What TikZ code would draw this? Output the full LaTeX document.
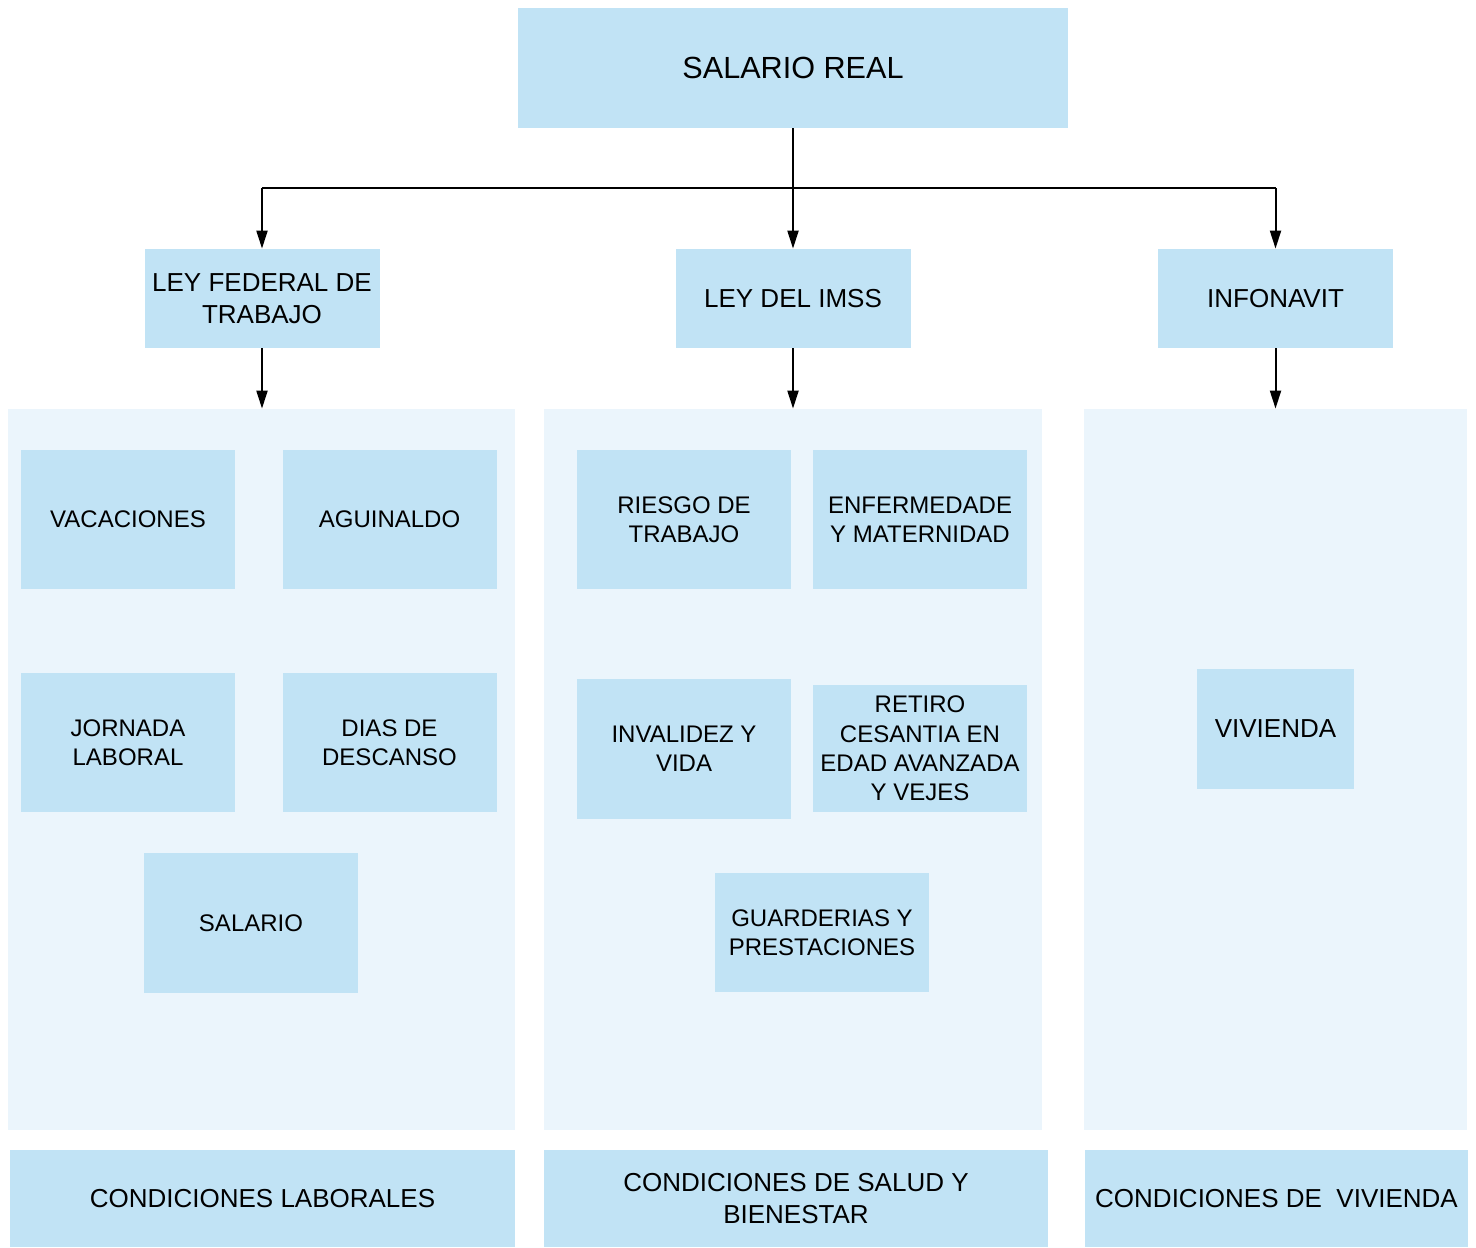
\documentclass[tikz,border=0pt]{standalone}
\usepackage{fontspec}
\setmainfont{Liberation Sans}
\usetikzlibrary{arrows.meta}
\definecolor{boxblue}{HTML}{C1E3F5}
\definecolor{panelblue}{HTML}{EBF5FC}
\begin{document}
\begin{tikzpicture}[x=0.5pt,y=-0.5pt,
  box/.style={fill=boxblue,draw=none,align=center,inner sep=0pt,font=\fontsize{12}{14.7}\selectfont},
  head/.style={box,font=\fontsize{13}{16}\selectfont},
  panel/.style={fill=panelblue,draw=none,inner sep=0pt},
  arr/.style={line width=1pt,-{Triangle[length=9pt,width=5.5pt]}}]
\useasboundingbox (0,0) rectangle (1476,1247);
\fill[white] (0,0) rectangle (1476,1247);
% panels
\node[panel,minimum width=507*0.5pt,minimum height=721*0.5pt] (p1) at (261.5,769.5) {};
\node[panel,minimum width=498*0.5pt,minimum height=721*0.5pt] (p2) at (793,769.5) {};
\node[panel,minimum width=383*0.5pt,minimum height=721*0.5pt] (p3) at (1275.5,769.5) {};
% top
\node[box,font=\fontsize{15.3}{18}\selectfont,minimum width=550*0.5pt,minimum height=120*0.5pt] (sr) at (793,68) {SALARIO REAL};
\node[head,minimum width=235*0.5pt,minimum height=99*0.5pt] (lft) at (262,298.5) {LEY FEDERAL DE\\TRABAJO};
\node[head,minimum width=235*0.5pt,minimum height=99*0.5pt] (imss) at (793,298.5) {LEY DEL IMSS};
\node[head,minimum width=235*0.5pt,minimum height=99*0.5pt] (inf) at (1275.5,298.5) {INFONAVIT};
% panel 1
\node[box,minimum width=214*0.5pt,minimum height=139*0.5pt] (vac) at (128,519.5) {VACACIONES};
\node[box,minimum width=214*0.5pt,minimum height=139*0.5pt] (agu) at (389.5,519.5) {AGUINALDO};
\node[box,minimum width=214*0.5pt,minimum height=139*0.5pt] (jor) at (128,742.5) {JORNADA\\LABORAL};
\node[box,minimum width=214*0.5pt,minimum height=139*0.5pt] (dia) at (389.5,742.5) {DIAS DE\\DESCANSO};
\node[box,minimum width=214*0.5pt,minimum height=140*0.5pt] (sal) at (251,923) {SALARIO};
% panel 2
\node[box,minimum width=214*0.5pt,minimum height=139*0.5pt] (rie) at (684,519.5) {RIESGO DE\\TRABAJO};
\node[box,minimum width=214*0.5pt,minimum height=139*0.5pt] (enf) at (920,519.5) {ENFERMEDADE\\Y MATERNIDAD};
\node[box,minimum width=214*0.5pt,minimum height=140*0.5pt] (inv) at (684,749) {INVALIDEZ Y\\VIDA};
\node[box,minimum width=214*0.5pt,minimum height=127*0.5pt] (ret) at (920,748.5) {RETIRO\\CESANTIA EN\\EDAD AVANZADA\\Y VEJES};
\node[box,minimum width=214*0.5pt,minimum height=119*0.5pt] (gua) at (822,932.5) {GUARDERIAS Y\\PRESTACIONES};
% panel 3
\node[box,font=\fontsize{13}{16}\selectfont,minimum width=157*0.5pt,minimum height=120*0.5pt] (viv) at (1275.5,729) {VIVIENDA};
% bottom
\node[head,minimum width=505*0.5pt,minimum height=97*0.5pt] (cl) at (262.5,1198.5) {CONDICIONES LABORALES};
\node[head,minimum width=504*0.5pt,minimum height=97*0.5pt] (cs) at (796,1198.5) {CONDICIONES DE SALUD Y\\BIENESTAR};
\node[head,minimum width=383*0.5pt,minimum height=97*0.5pt] (cv) at (1276.5,1198.5) {CONDICIONES DE\ \ VIVIENDA};
% connectors
\coordinate (hl) at (262,188);
\coordinate (hr) at (1275.5,188);
\draw[line width=1pt] (sr.south) -- (793,188);
\draw[line width=1pt] (hl) -- (hr);
\draw[arr] (sr.south) -- (imss.north);
\draw[arr] (hl) -- (lft.north);
\draw[arr] (hr) -- (inf.north);
\draw[arr] (lft.south) -- (lft.south |- p1.north);
\draw[arr] (imss.south) -- (p2.north);
\draw[arr] (inf.south) -- (p3.north);
\end{tikzpicture}
\end{document}
